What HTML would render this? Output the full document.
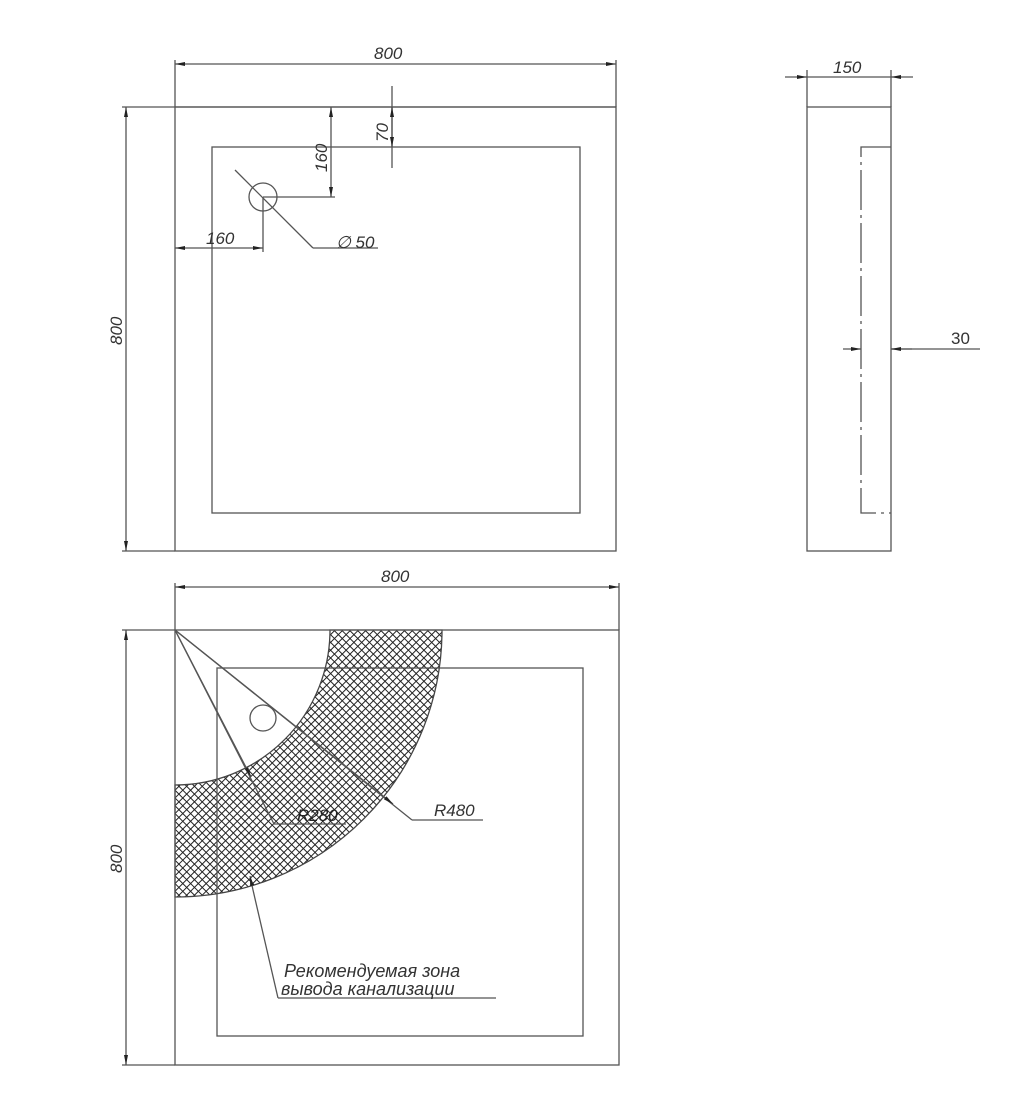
<!DOCTYPE html>
<html><head><meta charset="utf-8"><style>html,body{margin:0;padding:0;background:#fff}svg{display:block}</style></head>
<body>
<svg width="1017" height="1099" viewBox="0 0 1017 1099" xmlns="http://www.w3.org/2000/svg" font-family="Liberation Sans, sans-serif" font-style="italic" fill="none" stroke="#555" stroke-width="1.3">
<defs>
<pattern id="h" width="5.5" height="5.5" patternUnits="userSpaceOnUse" patternTransform="rotate(45)">
<rect width="6" height="6" fill="#fff" stroke="none"/>
<path d="M0 0H6M0 0V6" stroke="#222" stroke-width="2"/>
</pattern>
<marker id="a" viewBox="0 0 10 4" refX="10" refY="2" markerWidth="10" markerHeight="4" orient="auto-start-reverse" markerUnits="userSpaceOnUse"><path d="M0 0L10 2L0 4z" fill="#222" stroke="none"/></marker>
</defs>
<!-- TOP VIEW -->
<rect x="175" y="107" width="441" height="444"/>
<line x1="122" y1="107" x2="616" y2="107"/>
<line x1="175" y1="60" x2="175" y2="107"/>
<line x1="616" y1="60" x2="616" y2="107"/>
<line x1="175" y1="64" x2="616" y2="64" marker-start="url(#a)" marker-end="url(#a)"/>
<rect x="212" y="147" width="368" height="366"/>
<line x1="122" y1="551" x2="175" y2="551"/>
<line x1="126" y1="107" x2="126" y2="551" marker-start="url(#a)" marker-end="url(#a)"/>
<circle cx="263" cy="197" r="14"/>
<line x1="263" y1="197" x2="335" y2="197"/>
<line x1="331" y1="107" x2="331" y2="197" marker-start="url(#a)" marker-end="url(#a)"/>
<line x1="392" y1="86" x2="392" y2="168"/>
<line x1="392" y1="107" x2="392" y2="147" marker-start="url(#a)" marker-end="url(#a)"/>
<line x1="263" y1="197" x2="263" y2="252"/>
<line x1="175" y1="248" x2="263" y2="248" marker-start="url(#a)" marker-end="url(#a)"/>
<line x1="235" y1="170" x2="313" y2="248"/>
<line x1="313" y1="248" x2="378" y2="248"/>
<g fill="#333" stroke="none" font-size="17">
<text x="374" y="59">800</text>
<text x="206" y="244">160</text>
<text x="336" y="248">∅ 50</text>
<text transform="translate(327,172) rotate(-90)">160</text>
<text transform="translate(388,142) rotate(-90)">70</text>
<text transform="translate(122,345) rotate(-90)">800</text>
</g>
<!-- SIDE VIEW -->
<rect x="807" y="107" width="84" height="444"/>
<line x1="807" y1="70" x2="807" y2="107"/>
<line x1="891" y1="70" x2="891" y2="107"/>
<line x1="785" y1="77" x2="807" y2="77" marker-end="url(#a)"/>
<line x1="913" y1="77" x2="891" y2="77" marker-end="url(#a)"/>
<line x1="807" y1="77" x2="891" y2="77"/>
<path d="M891 147H861V513H891" stroke-dasharray="40 5 3 5"/>
<line x1="843" y1="349" x2="861" y2="349" marker-end="url(#a)"/>
<line x1="980" y1="349" x2="891" y2="349"/>
<line x1="912" y1="349" x2="891" y2="349" marker-end="url(#a)"/>
<g fill="#333" stroke="none" font-size="17">
<text x="833" y="73">150</text>
<text x="951" y="344" font-style="normal">30</text>
</g>
<!-- BOTTOM VIEW -->
<path d="M330 630A155 155 0 0 1 175 785L175 897A267 267 0 0 0 442 630Z" fill="url(#h)" stroke="#444"/>
<rect x="175" y="630" width="444" height="435"/>
<line x1="122" y1="630" x2="175" y2="630"/>
<line x1="122" y1="1065" x2="175" y2="1065"/>
<line x1="126" y1="630" x2="126" y2="1065" marker-start="url(#a)" marker-end="url(#a)"/>
<line x1="175" y1="583" x2="175" y2="630"/>
<line x1="619" y1="583" x2="619" y2="630"/>
<line x1="175" y1="587" x2="619" y2="587" marker-start="url(#a)" marker-end="url(#a)"/>
<rect x="217" y="668" width="366" height="368"/>
<circle cx="263" cy="718" r="13"/>
<line x1="175" y1="630" x2="274" y2="824"/>
<line x1="175" y1="630" x2="251" y2="777" marker-end="url(#a)"/>
<line x1="274" y1="824" x2="346" y2="824"/>
<line x1="175" y1="630" x2="412" y2="820"/>
<line x1="175" y1="630" x2="393" y2="804" marker-end="url(#a)"/>
<line x1="412" y1="820" x2="483" y2="820"/>
<line x1="278" y1="998" x2="253" y2="890"/>
<line x1="278" y1="998" x2="496" y2="998"/>
<line x1="253" y1="890" x2="250" y2="876" marker-end="url(#a)"/>
<g fill="#333" stroke="none" font-size="17">
<text x="381" y="582">800</text>
<text x="297" y="821" fill="#222">R280</text>
<text x="434" y="816">R480</text>
<text transform="translate(122,873) rotate(-90)">800</text>
<text x="284" y="977" font-size="18">Рекомендуемая зона</text>
<text x="281" y="995" font-size="18">вывода канализации</text>
</g>
</svg>
</body></html>
